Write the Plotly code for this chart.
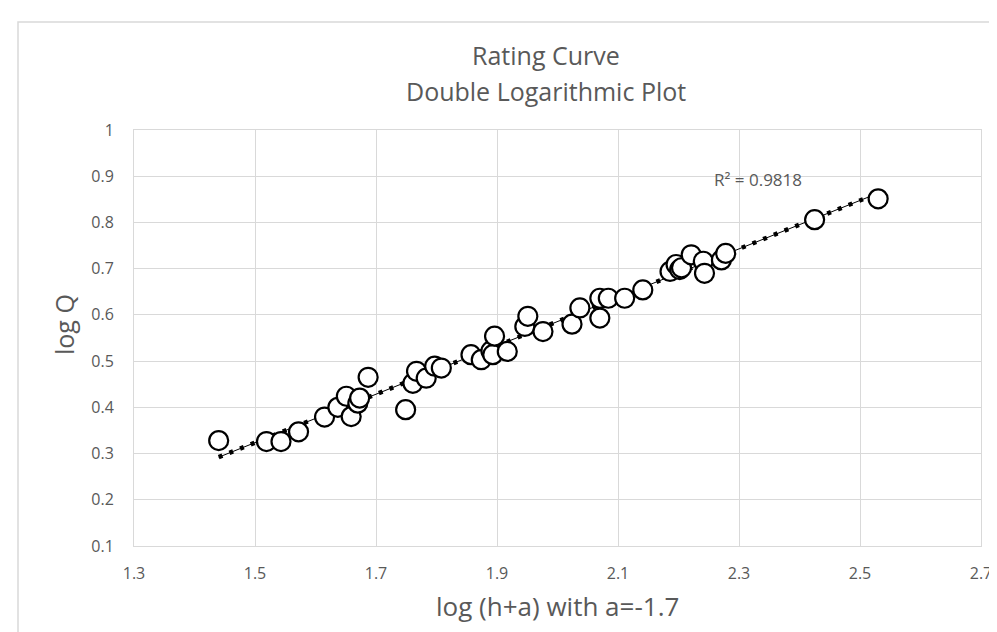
import numpy as np
import plotly.graph_objects as go

# ---- data ----
log_ha = [1.440, 1.519, 1.543, 1.572, 1.615, 1.637, 1.651, 1.659, 1.670, 1.673,
          1.687, 1.749, 1.761, 1.767, 1.783, 1.797, 1.808, 1.857, 1.874, 1.890,
          1.893, 1.896, 1.917, 1.946, 1.951, 1.976, 2.024, 2.037, 2.070, 2.070,
          2.084, 2.111, 2.141, 2.186, 2.196, 2.202, 2.205, 2.221, 2.241, 2.243,
          2.271, 2.278, 2.425, 2.530]
log_q = [0.328, 0.326, 0.326, 0.347, 0.379, 0.400, 0.424, 0.380, 0.409, 0.420,
         0.465, 0.395, 0.452, 0.478, 0.463, 0.489, 0.485, 0.514, 0.503, 0.522,
         0.514, 0.554, 0.521, 0.575, 0.597, 0.564, 0.580, 0.615, 0.636, 0.593,
         0.636, 0.636, 0.654, 0.694, 0.709, 0.698, 0.702, 0.730, 0.716, 0.690,
         0.719, 0.733, 0.806, 0.851]

x_ticks = [1.3, 1.5, 1.7, 1.9, 2.1, 2.3, 2.5, 2.7]
x_labels = ["1.3", "1.5", "1.7", "1.9", "2.1", "2.3", "2.5", "2.7"]
y_ticks = [0.1, 0.2, 0.3, 0.4, 0.5, 0.6, 0.7, 0.8, 0.9, 1.0]
y_labels = ["0.1", "0.2", "0.3", "0.4", "0.5", "0.6", "0.7", "0.8", "0.9", "1"]

r2_text = "R² = 0.9818"

# linear trendline (least squares through the data, like Excel)
xa = np.array(log_ha)
ya = np.array(log_q)
slope, intercept = np.polyfit(xa, ya, 1)
tx = [xa.min(), xa.max()]
ty = [slope * v + intercept for v in tx]

FONT = "Open Sans"
GRAY = "#595959"
GRID = "#d9d9d9"

fig = go.Figure()
fig.add_trace(go.Scatter(x=tx, y=ty, mode="lines",
                         line=dict(color="black", width=1), hoverinfo="skip"))
fig.add_trace(go.Scatter(x=tx, y=ty, mode="lines",
                         line=dict(color="black", width=4.5, dash="4px,7.5px"),
                         hoverinfo="skip"))
fig.add_trace(go.Scatter(x=log_ha, y=log_q, mode="markers",
                         marker=dict(symbol="circle", size=19, color="white",
                                     line=dict(color="black", width=2.2))))

W, H = 997, 632
L, R, T, B = 126, 24, 122, 94
pw, ph = W - L - R, H - T - B


def px(xp):
    return (xp - L) / pw


def py(yp):
    return (H - B - yp) / ph


fig.update_layout(
    width=W, height=H,
    margin=dict(l=L, r=R, t=T, b=B),
    paper_bgcolor="white", plot_bgcolor="white",
    showlegend=False,
    font=dict(family=FONT, color=GRAY),
    xaxis=dict(range=[1.3, 2.7], tickvals=x_ticks, ticktext=x_labels,
               showgrid=True, gridcolor=GRID, gridwidth=1,
               showline=True, linecolor=GRID, linewidth=1, mirror=True,
               zeroline=False, ticks="", tickfont=dict(size=16, color=GRAY),
               ticklabelstandoff=13),
    yaxis=dict(range=[0.1, 1.0], tickvals=y_ticks, ticktext=y_labels,
               showgrid=True, gridcolor=GRID, gridwidth=1,
               showline=True, linecolor=GRID, linewidth=1, mirror=True,
               zeroline=False, ticks="", tickfont=dict(size=16, color=GRAY),
               ticklabelstandoff=16),
    shapes=[dict(type="rect", xref="paper", yref="paper",
                 x0=px(10), x1=px(1010), y0=py(650), y1=py(14),
                 line=dict(color=GRID, width=1.5), fillcolor="rgba(0,0,0,0)",
                 layer="below")],
    annotations=[
        dict(text="Rating Curve", xref="paper", yref="paper",
             x=px(538), y=py(47), showarrow=False, xanchor="center", yanchor="middle",
             font=dict(size=25, color=GRAY, family=FONT)),
        dict(text="Double Logarithmic Plot", xref="paper", yref="paper",
             x=px(538), y=py(83), showarrow=False, xanchor="center", yanchor="middle",
             font=dict(size=25, color=GRAY, family=FONT)),
        dict(text="log Q", xref="paper", yref="paper", textangle=-90,
             x=px(56), y=py(317), showarrow=False, xanchor="center", yanchor="middle",
             font=dict(size=25, color=GRAY, family=FONT)),
        dict(text="log (h+a) with a=-1.7", xref="paper", yref="paper",
             x=px(549), y=py(598), showarrow=False, xanchor="center", yanchor="middle",
             font=dict(size=26, color=GRAY, family=FONT)),
        dict(text=r2_text, xref="x", yref="y", x=2.331, y=0.893,
             showarrow=False, xanchor="center", yanchor="middle",
             font=dict(size=17, color=GRAY, family=FONT)),
    ],
)

fig.write_html("out.html")
